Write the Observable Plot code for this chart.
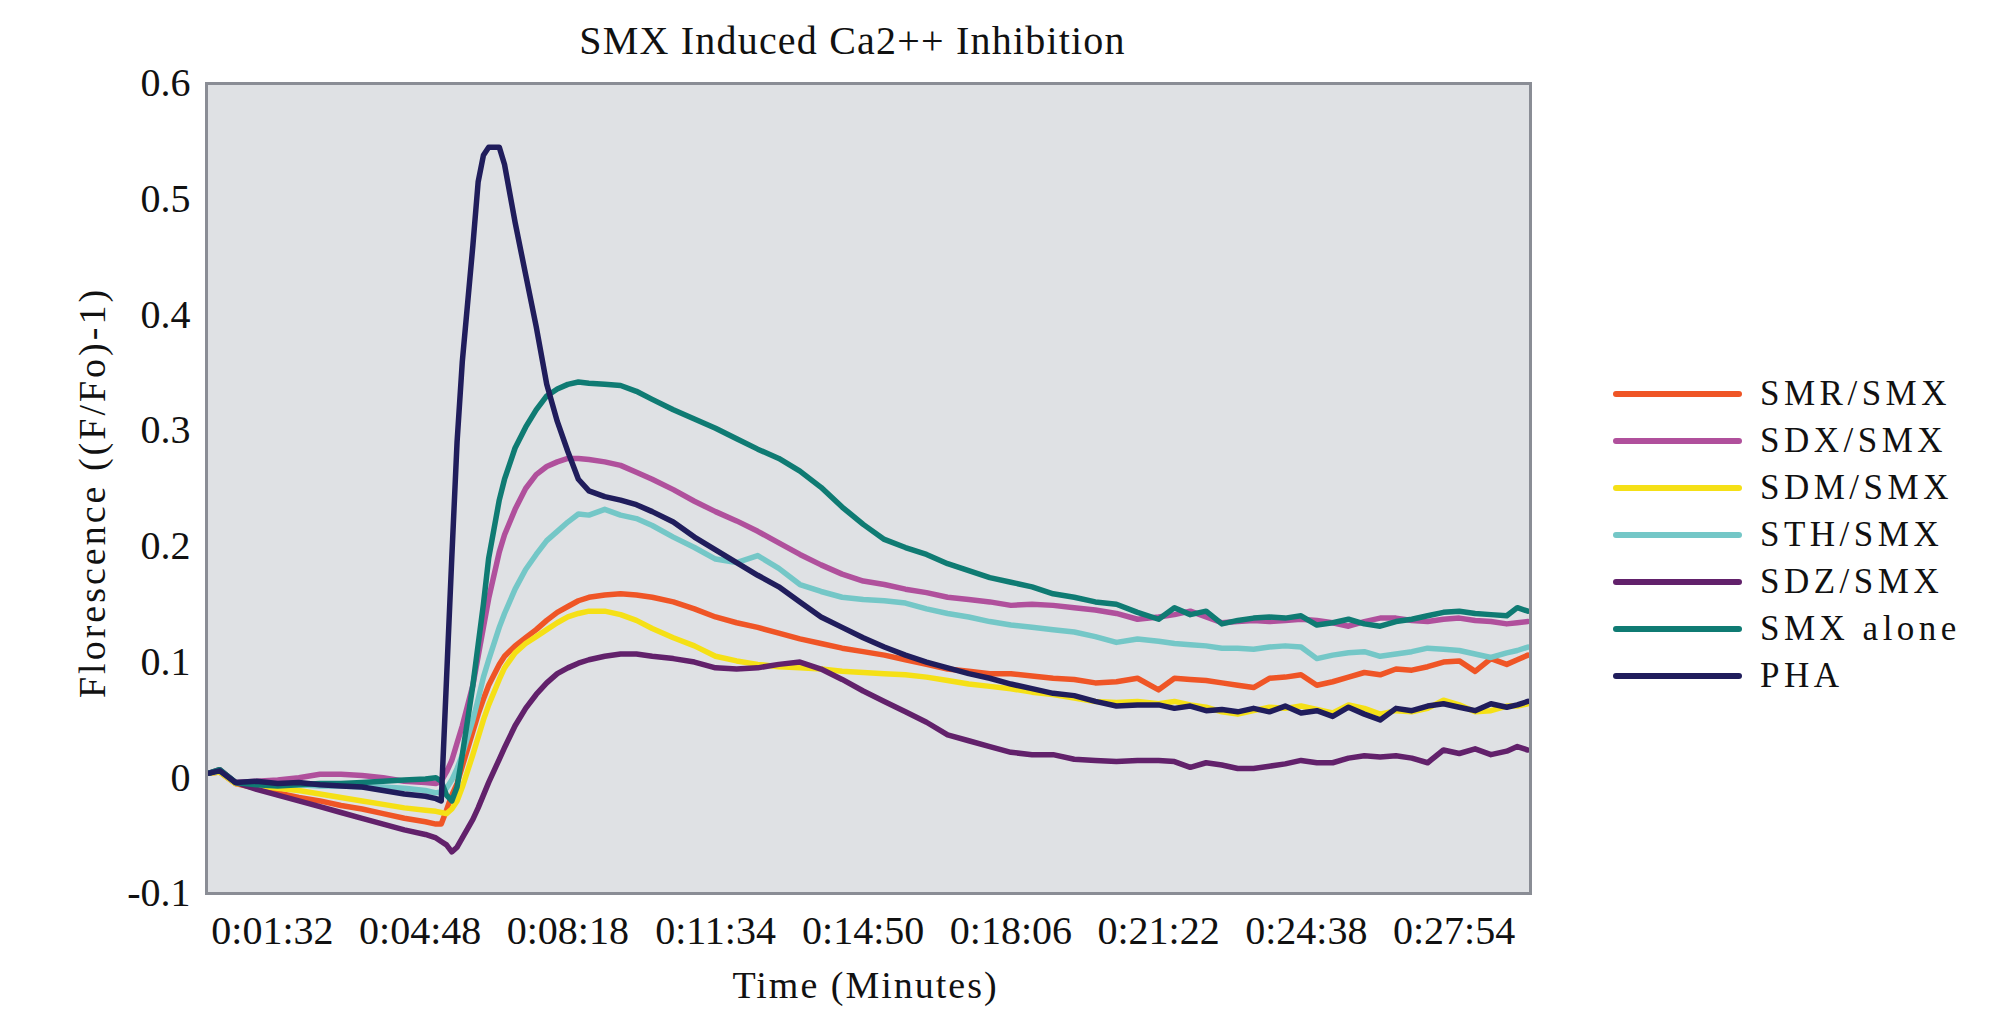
<!DOCTYPE html>
<html>
<head>
<meta charset="utf-8">
<script src="https://cdn.jsdelivr.net/npm/d3@7"></script>
<script src="https://cdn.jsdelivr.net/npm/@observablehq/plot@0.6"></script>
<style>
  html, body { margin: 0; padding: 0; background: #ffffff; }
  #wrap { position: relative; width: 2006px; height: 1023px; overflow: hidden; }
  #legend { position: absolute; left: 1613px; top: 370px; font-family: "Liberation Serif", "DejaVu Serif", serif; font-size: 35px; letter-spacing: 4.5px; color: #111; }
  .row { height: 47px; display: flex; align-items: center; }
  .sw { width: 129px; height: 6px; border-radius: 3px; margin-right: 18px; }
</style>
</head>
<body>
<div id="wrap"><div id="chart"></div><div id="legend"></div></div>
<script>
const titleText = "SMX Induced Ca2++ Inhibition";
const xLabel = "Time (Minutes)";
const yLabel = "Florescence ((F/Fo)-1)";

const seriesNames = ["SMR/SMX", "SDX/SMX", "SDM/SMX", "STH/SMX", "SDZ/SMX", "SMX alone", "PHA"];
const seriesColors = ["#ef5526", "#b0509c", "#f5e016", "#74c7c7", "#62216b", "#0f7b73", "#201d5c"];

const tickLabels = ["0:01:32", "0:04:48", "0:08:18", "0:11:34", "0:14:50", "0:18:06", "0:21:22", "0:24:38", "0:27:54"];
const tickSamples = [12, 40, 68, 96, 124, 152, 180, 208, 236];
const yTicks = [-0.1, 0, 0.1, 0.2, 0.3, 0.4, 0.5, 0.6];

// sample index (one reading per category on the time axis)
const sampleIdx = [0,2,5,9,13,17,21,25,29,33,37,41,43,44,45,46,47,48,50,51,52,53,55,56,58,
  60,62,64,66,68,70,72,75,78,81,84,88,92,96,100,104,108,112,116,120,124,128,132,136,140,
  144,148,152,156,160,164,168,172,176,180,183,186,189,192,195,198,201,204,207,210,
  213,216,219,222,225,228,231,234,237,240,243,246,248,250];

const SMR = [0.004,0.005,-0.005,-0.009,-0.013,-0.017,-0.020,-0.024,-0.027,-0.031,-0.035,-0.038,-0.040,-0.040,-0.028,-0.015,-0.005,0.010,0.040,0.055,0.068,0.080,0.098,0.105,0.114,
  0.121,0.128,0.136,0.143,0.148,0.153,0.156,0.158,0.159,0.158,0.156,0.152,0.146,0.139,0.134,0.130,0.125,0.120,0.116,0.112,0.109,0.106,0.102,0.098,0.094,
  0.092,0.090,0.090,0.088,0.086,0.085,0.082,0.083,0.086,0.076,0.086,0.085,0.084,0.082,0.080,0.078,0.086,0.087,0.089,0.080,
  0.083,0.087,0.091,0.089,0.094,0.093,0.096,0.100,0.101,0.092,0.103,0.098,0.102,0.106];

const SDX = [0.004,0.006,-0.004,-0.003,-0.002,0.000,0.003,0.003,0.002,0.000,-0.003,-0.004,-0.005,-0.003,0.005,0.015,0.030,0.045,0.080,0.105,0.130,0.155,0.195,0.210,0.232,
  0.250,0.262,0.269,0.273,0.276,0.276,0.275,0.273,0.270,0.264,0.258,0.249,0.239,0.230,0.222,0.213,0.203,0.193,0.184,0.176,0.170,0.167,0.163,0.160,0.156,
  0.154,0.152,0.149,0.150,0.149,0.147,0.145,0.142,0.137,0.139,0.141,0.144,0.139,0.134,0.135,0.136,0.135,0.136,0.137,0.136,
  0.134,0.131,0.135,0.138,0.138,0.136,0.135,0.137,0.138,0.136,0.135,0.133,0.134,0.135];

const SDM = [0.004,0.005,-0.005,-0.007,-0.009,-0.011,-0.014,-0.017,-0.020,-0.023,-0.026,-0.028,-0.029,-0.030,-0.031,-0.027,-0.020,-0.008,0.020,0.035,0.050,0.063,0.085,0.095,0.108,
  0.116,0.122,0.128,0.134,0.139,0.142,0.144,0.144,0.141,0.136,0.129,0.121,0.114,0.105,0.101,0.098,0.096,0.095,0.094,0.092,0.091,0.090,0.089,0.087,0.084,
  0.081,0.079,0.077,0.074,0.072,0.069,0.066,0.065,0.066,0.064,0.066,0.063,0.061,0.057,0.055,0.058,0.061,0.060,0.062,0.059,
  0.056,0.063,0.060,0.055,0.058,0.057,0.060,0.067,0.063,0.057,0.058,0.062,0.062,0.064];

const STH = [0.004,0.006,-0.004,-0.005,-0.006,-0.006,-0.007,-0.007,-0.008,-0.008,-0.009,-0.011,-0.013,-0.012,-0.009,-0.002,0.008,0.020,0.050,0.068,0.087,0.102,0.130,0.142,0.163,
  0.180,0.193,0.205,0.213,0.221,0.228,0.227,0.232,0.227,0.224,0.218,0.208,0.199,0.189,0.186,0.192,0.181,0.167,0.161,0.156,0.154,0.153,0.151,0.146,0.142,
  0.139,0.135,0.132,0.130,0.128,0.126,0.122,0.117,0.120,0.118,0.116,0.115,0.114,0.112,0.112,0.111,0.113,0.114,0.113,0.103,
  0.106,0.108,0.109,0.105,0.107,0.109,0.112,0.111,0.110,0.107,0.104,0.108,0.110,0.113];

const SDZ = [0.004,0.007,-0.004,-0.010,-0.015,-0.020,-0.025,-0.030,-0.035,-0.040,-0.045,-0.049,-0.052,-0.055,-0.058,-0.064,-0.060,-0.052,-0.036,-0.026,-0.015,-0.004,0.016,0.026,0.045,
  0.060,0.072,0.082,0.090,0.095,0.099,0.102,0.105,0.107,0.107,0.105,0.103,0.100,0.095,0.094,0.095,0.098,0.100,0.094,0.085,0.075,0.066,0.057,0.048,0.037,
  0.032,0.027,0.022,0.020,0.020,0.016,0.015,0.014,0.015,0.015,0.014,0.009,0.013,0.011,0.008,0.008,0.010,0.012,0.015,0.013,
  0.013,0.017,0.019,0.018,0.019,0.017,0.013,0.024,0.021,0.025,0.020,0.023,0.027,0.024];

const SMXalone = [0.004,0.007,-0.004,-0.006,-0.007,-0.006,-0.005,-0.005,-0.004,-0.003,-0.002,-0.001,0.000,-0.003,-0.015,-0.020,-0.008,0.020,0.080,0.115,0.150,0.190,0.240,0.258,0.285,
  0.303,0.318,0.330,0.336,0.340,0.342,0.341,0.340,0.339,0.334,0.327,0.318,0.310,0.302,0.293,0.284,0.276,0.265,0.251,0.234,0.219,0.206,0.199,0.193,0.185,
  0.179,0.173,0.169,0.165,0.159,0.156,0.152,0.150,0.143,0.137,0.147,0.141,0.144,0.133,0.136,0.138,0.139,0.138,0.140,0.132,
  0.134,0.137,0.133,0.131,0.135,0.137,0.140,0.143,0.144,0.142,0.141,0.140,0.147,0.144];

const PHA = [0.004,0.006,-0.004,-0.003,-0.005,-0.004,-0.006,-0.007,-0.008,-0.011,-0.014,-0.016,-0.018,-0.020,0.085,0.190,0.290,0.360,0.460,0.515,0.538,0.545,0.545,0.530,0.480,
  0.435,0.390,0.340,0.308,0.282,0.258,0.248,0.243,0.240,0.236,0.230,0.221,0.208,0.197,0.186,0.175,0.165,0.152,0.139,0.130,0.121,0.113,0.106,0.100,0.095,
  0.090,0.086,0.081,0.077,0.073,0.071,0.066,0.062,0.063,0.063,0.060,0.062,0.058,0.059,0.057,0.060,0.057,0.062,0.056,0.058,
  0.053,0.061,0.055,0.050,0.060,0.058,0.062,0.064,0.061,0.058,0.064,0.061,0.063,0.066];

const seriesValues = [SMR, SDX, SDM, STH, SDZ, SMXalone, PHA];

const rows = [];
seriesNames.forEach((name, k) => {
  sampleIdx.forEach((s, i) => rows.push({series: name, sample: s, value: seriesValues[k][i]}));
});

const font = "Liberation Serif";

const chart = Plot.plot({
  width: 2006,
  height: 1023,
  marginLeft: 206,
  marginRight: 476,
  marginTop: 83,
  marginBottom: 130,
  style: {fontFamily: font, fontSize: "40px", background: "#ffffff", color: "#111"},
  x: {domain: [-0.5, 250.5], axis: null},
  y: {domain: [-0.1, 0.6], axis: null},
  color: {domain: seriesNames, range: seriesColors},
  marks: [
    Plot.frame({fill: "#dfe1e4", stroke: null}),
    Plot.line(rows, {x: "sample", y: "value", z: "series", stroke: "series", strokeWidth: 5.5, strokeLinejoin: "round", strokeLinecap: "round"}),
    Plot.frame({stroke: "#8a8d95", strokeWidth: 3}),
    Plot.axisY({ticks: yTicks, tickSize: 0, tickPadding: 16, label: null, fontFamily: font,
      tickFormat: d => (Math.abs(d) < 1e-9 ? "0" : d.toFixed(1)), fontSize: 40}),
    Plot.axisX({ticks: tickSamples, tickSize: 0, tickPadding: 22, label: null, fontFamily: font,
      tickFormat: d => tickLabels[tickSamples.indexOf(d)], fontSize: 40}),
    Plot.text([titleText], {text: d => d, frameAnchor: "top", dx: -16, dy: -58, fontSize: 40, fontFamily: font, fill: "#111"}),
    Plot.text([xLabel], {text: d => d, frameAnchor: "bottom", dx: -3, dy: 104, fontSize: 38, fontFamily: font, fill: "#111"}),
    Plot.text([yLabel], {text: d => d, frameAnchor: "left", textAnchor: "middle", dx: -114, dy: 4, rotate: -90, fontSize: 38, fontFamily: font, fill: "#111"})
  ]
});
document.getElementById("chart").appendChild(chart);

// letter spacing to mimic the wide lettering of the original
chart.querySelectorAll("text").forEach(t => {
  const s = t.textContent;
  if (s === titleText) t.style.letterSpacing = "1.2px";
  else if (s === xLabel) t.style.letterSpacing = "2px";
  else if (s === yLabel) t.style.letterSpacing = "3px";
});

const legend = document.getElementById("legend");
seriesNames.forEach((name, k) => {
  const row = document.createElement("div");
  row.className = "row";
  const sw = document.createElement("div");
  sw.className = "sw";
  sw.style.background = seriesColors[k];
  const lab = document.createElement("span");
  lab.textContent = name;
  row.appendChild(sw);
  row.appendChild(lab);
  legend.appendChild(row);
});
</script>
</body>
</html>
